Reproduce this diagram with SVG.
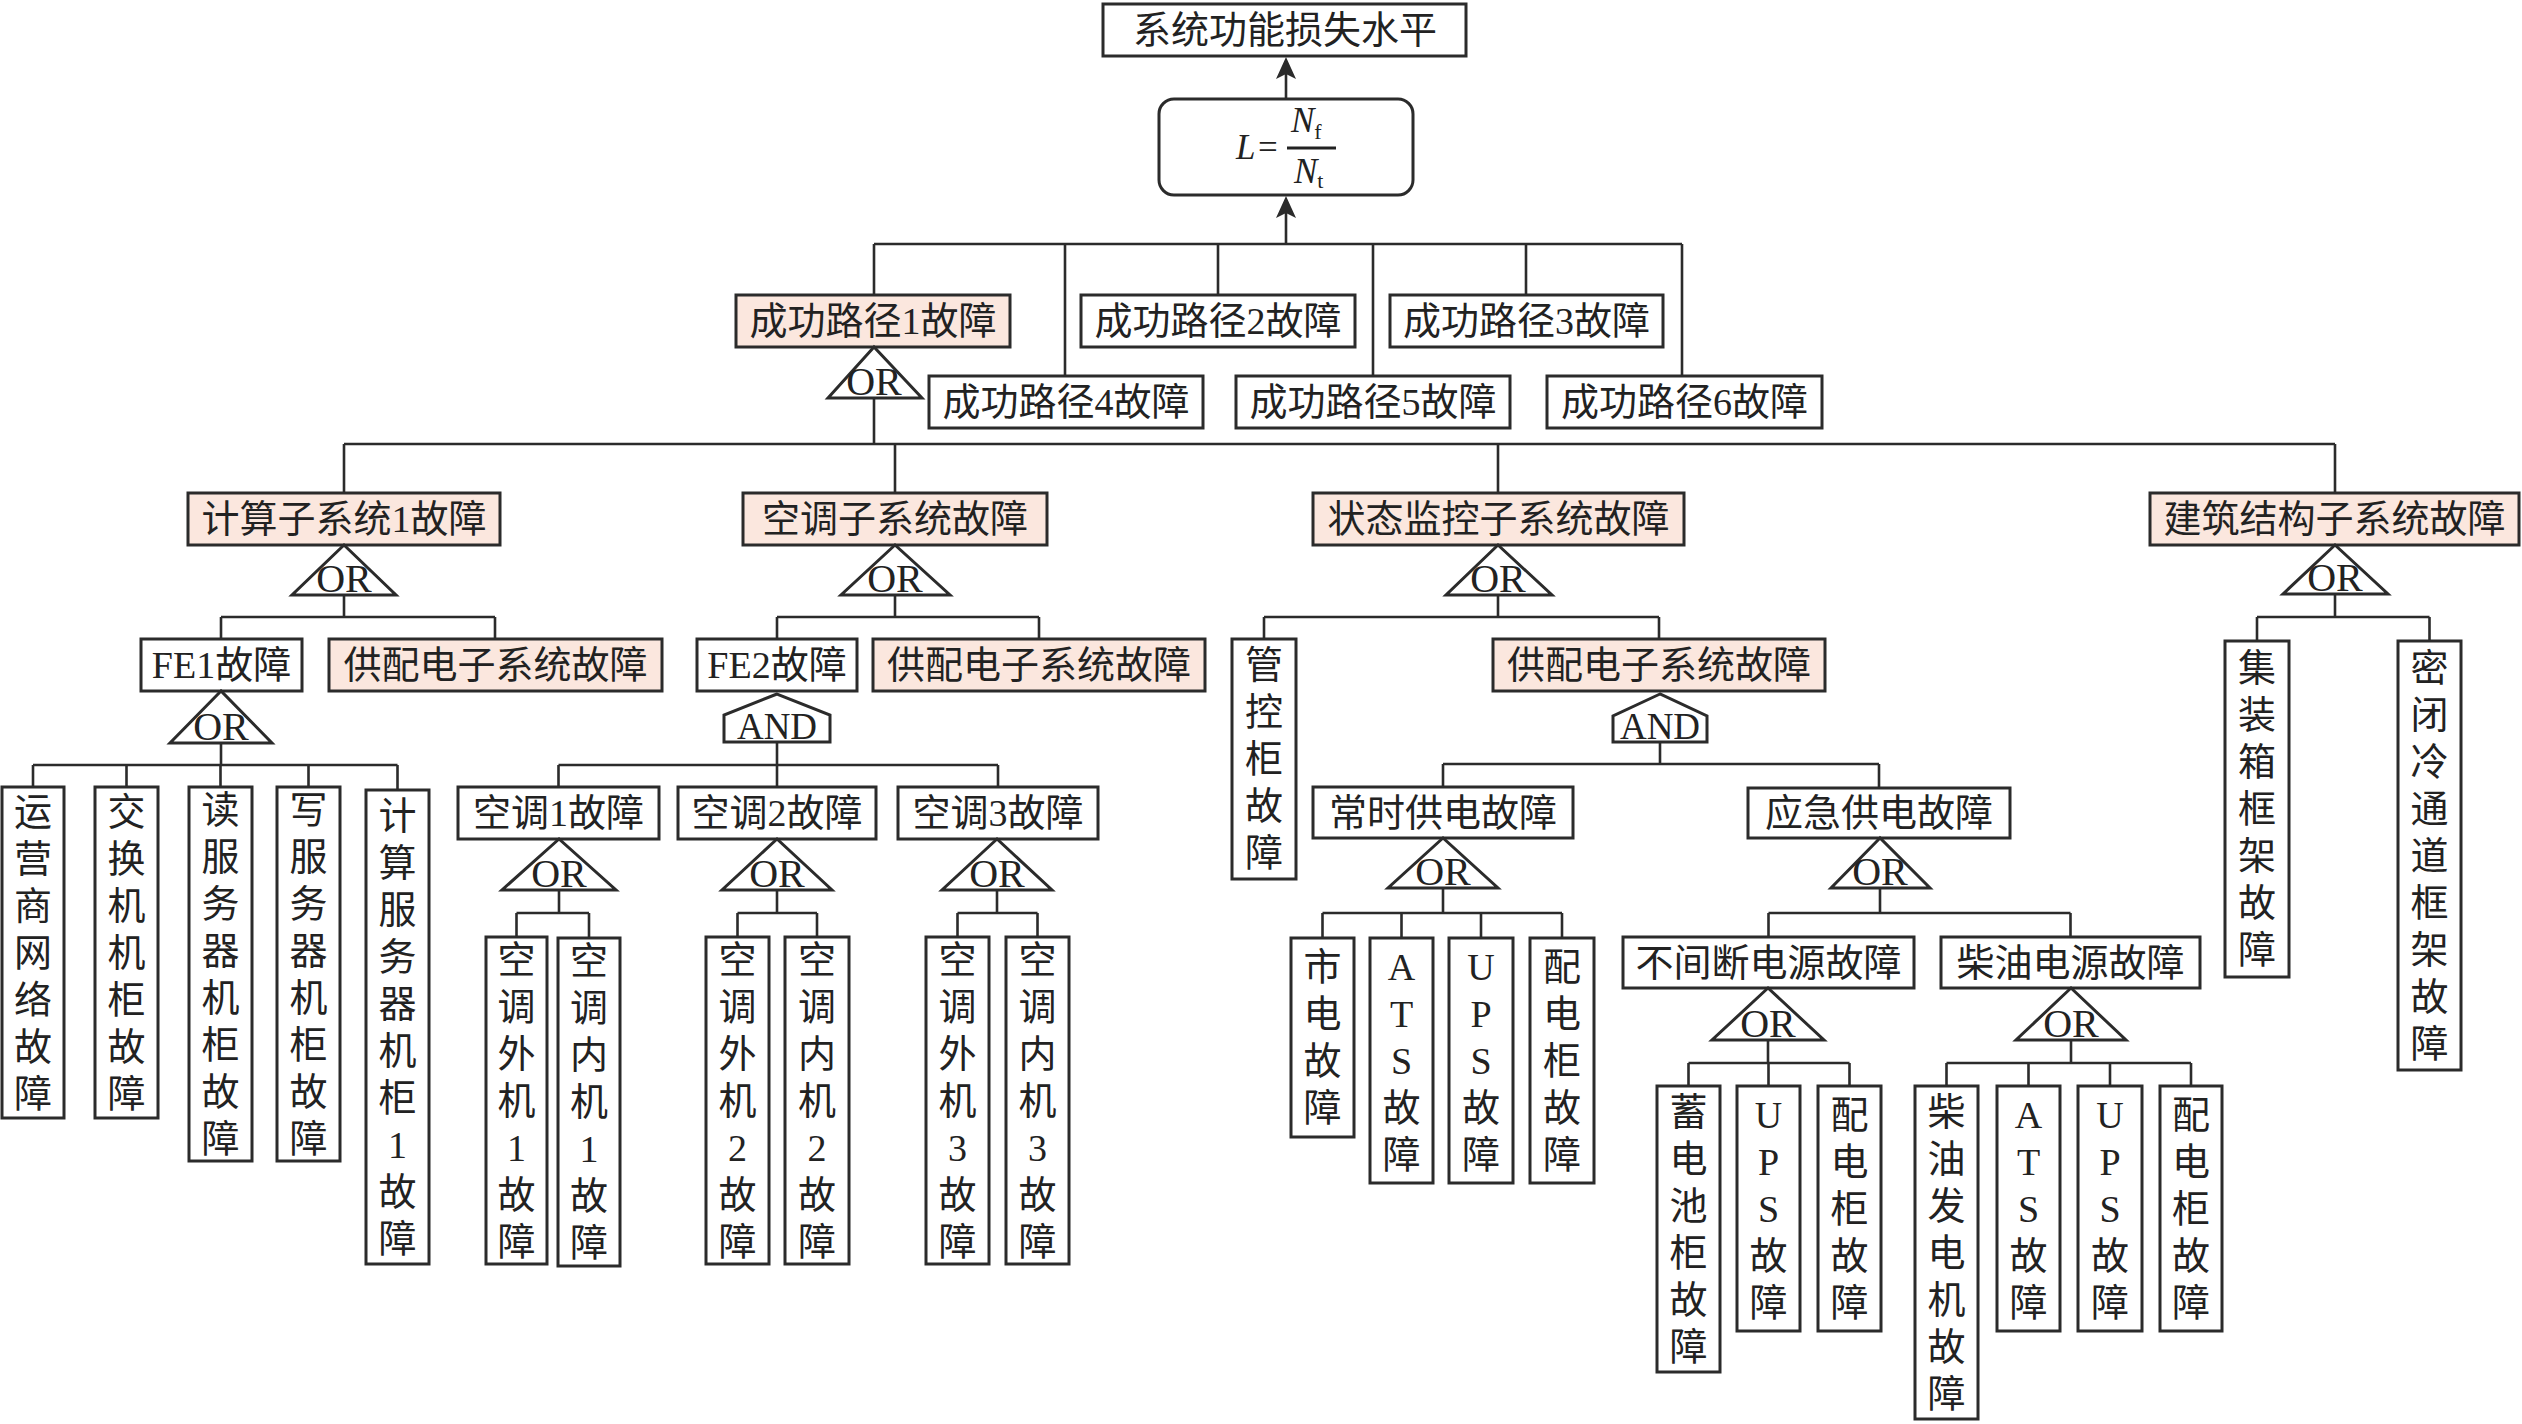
<svg xmlns="http://www.w3.org/2000/svg" width="2522" height="1424" viewBox="0 0 2522 1424">
<defs>
<style>
.b{fill:#ffffff;stroke:#2b2b2b;stroke-width:3}
.pk{fill:#fbe7de;stroke:#2b2b2b;stroke-width:3}
.g{fill:#ffffff;stroke:#2b2b2b;stroke-width:3}
.c{fill:none;stroke:#2b2b2b;stroke-width:2.6}
.t{font-family:"Liberation Serif","Noto Sans CJK SC",serif;font-size:38px;fill:#222;text-anchor:middle;dominant-baseline:central}
.gt{font-family:"Liberation Serif","Times New Roman",serif;font-size:40px;fill:#222;text-anchor:middle}
.at{font-family:"Liberation Serif","Times New Roman",serif;font-size:37px;fill:#222;text-anchor:middle}
.f{font-family:"Liberation Serif","Times New Roman",serif;fill:#222}
</style>
<marker id="ah" viewBox="0 0 22 20" refX="5" refY="10" markerWidth="22" markerHeight="20" markerUnits="userSpaceOnUse" orient="auto">
<path d="M0,0 L22,10 L0,20 L5,10 Z" fill="#2b2b2b"/>
</marker>
</defs>
<rect width="2522" height="1424" fill="#ffffff"/>

<g id="connectors">
<path class="c" d="M1286,99 V74" marker-end="url(#ah)"/>
<path class="c" d="M1286,244 V213" marker-end="url(#ah)"/>
<path class="c" d="M874,244 H1682 M874,244 V295 M1065,244 V376 M1218,244 V295 M1373,244 V376 M1526,244 V295 M1682,244 V376"/>
<path class="c" d="M874,398 V444 M344,444 H2335 M344,444 V493 M895,444 V493 M1498,444 V493 M2335,444 V493"/>
<path class="c" d="M344,595 V617 M221,617 H495 M221,617 V639 M495,617 V639"/>
<path class="c" d="M895,595 V617 M777,617 H1039 M777,617 V639 M1039,617 V639"/>
<path class="c" d="M1498,595 V617 M1264,617 H1659 M1264,617 V639 M1659,617 V639"/>
<path class="c" d="M2335,594 V617 M2257,617 H2429.5 M2257,617 V641 M2429.5,617 V641"/>
<path class="c" d="M221,743 V765 M33,765 H397.5 M33,765 V787 M126.5,765 V787 M220.5,765 V787 M308.5,765 V787 M397.5,765 V790"/>
<path class="c" d="M777,742 V765 M558.5,765 H998 M558.5,765 V787 M777,765 V787 M998,765 V787"/>
<path class="c" d="M559,890 V913 M516.5,913 H589 M516.5,913 V937 M589,913 V938"/>
<path class="c" d="M777,890 V913 M737.5,913 H817 M737.5,913 V937 M817,913 V937"/>
<path class="c" d="M997,890 V913 M957.5,913 H1037.5 M957.5,913 V937 M1037.5,913 V937"/>
<path class="c" d="M1660,742 V764 M1443,764 H1879 M1443,764 V787 M1879,764 V788"/>
<path class="c" d="M1443,888 V913 M1322.5,913 H1562 M1322.5,913 V938 M1401.5,913 V938 M1481,913 V938 M1562,913 V938"/>
<path class="c" d="M1880,888 V913 M1768.5,913 H2070.5 M1768.5,913 V937 M2070.5,913 V937"/>
<path class="c" d="M1768,1040 V1063 M1688.5,1063 H1849.5 M1688.5,1063 V1086 M1768.5,1063 V1086 M1849.5,1063 V1086"/>
<path class="c" d="M2071,1040 V1063 M1946.5,1063 H2191 M1946.5,1063 V1086 M2028.5,1063 V1086 M2110,1063 V1086 M2191,1063 V1086"/>
</g>

<g id="n-top"><rect class="b" x="1103" y="4" width="363" height="52"/><text class="t" x="1285" y="30">系统功能损失水平</text></g>
<g id="n-formula">
<rect class="b" x="1159" y="99" width="254" height="96" rx="15" ry="15"/>
<text class="f" x="1236" y="159" font-size="35" font-style="italic">L</text>
<text class="f" x="1258" y="159" font-size="35">=</text>
<line x1="1287" y1="148" x2="1336" y2="148" stroke="#222" stroke-width="3"/>
<text class="f" x="1291" y="132" font-size="35" font-style="italic">N<tspan font-size="22" font-style="normal" dy="7">f</tspan></text>
<text class="f" x="1294" y="183" font-size="35" font-style="italic">N<tspan font-size="22" font-style="normal" dy="5">t</tspan></text>
</g>

<g id="n-p1"><rect class="pk" x="736" y="295" width="274" height="52"/><text class="t" x="873" y="321">成功路径1故障</text></g>
<g id="n-p2"><rect class="b" x="1081" y="295" width="274" height="52"/><text class="t" x="1218" y="321">成功路径2故障</text></g>
<g id="n-p3"><rect class="b" x="1390" y="295" width="273" height="52"/><text class="t" x="1526.5" y="321">成功路径3故障</text></g>
<g id="n-p4"><rect class="b" x="929" y="376" width="274" height="52"/><text class="t" x="1066" y="402">成功路径4故障</text></g>
<g id="n-p5"><rect class="b" x="1236" y="376" width="274" height="52"/><text class="t" x="1373" y="402">成功路径5故障</text></g>
<g id="n-p6"><rect class="b" x="1547" y="376" width="275" height="52"/><text class="t" x="1684.5" y="402">成功路径6故障</text></g>
<g id="gate-p1"><polygon class="g" points="874,347 828,398 922,398"/><text class="gt" x="874" y="395">OR</text></g>

<g id="n-s1"><rect class="pk" x="188" y="493" width="312" height="52"/><text class="t" x="344" y="519">计算子系统1故障</text></g>
<g id="n-s2"><rect class="pk" x="743" y="493" width="304" height="52"/><text class="t" x="895" y="519">空调子系统故障</text></g>
<g id="n-s3"><rect class="pk" x="1313" y="493" width="371" height="52"/><text class="t" x="1498.5" y="519">状态监控子系统故障</text></g>
<g id="n-s4"><rect class="pk" x="2150" y="493" width="369" height="52"/><text class="t" x="2334.5" y="519">建筑结构子系统故障</text></g>
<g id="gate-s1"><polygon class="g" points="344,545 292,595 396,595"/><text class="gt" x="344" y="592">OR</text></g>
<g id="gate-s2"><polygon class="g" points="895,545 841,595 950,595"/><text class="gt" x="895" y="592">OR</text></g>
<g id="gate-s3"><polygon class="g" points="1498,545 1446,595 1552,595"/><text class="gt" x="1498" y="592">OR</text></g>
<g id="gate-s4"><polygon class="g" points="2335,545 2283,594 2388,594"/><text class="gt" x="2335" y="591">OR</text></g>

<g id="n-fe1"><rect class="b" x="141" y="639" width="161" height="52"/><text class="t" x="221.5" y="665">FE1故障</text></g>
<g id="n-gp1"><rect class="pk" x="329" y="639" width="333" height="52"/><text class="t" x="495.5" y="665">供配电子系统故障</text></g>
<g id="n-fe2"><rect class="b" x="697" y="639" width="160" height="52"/><text class="t" x="777" y="665">FE2故障</text></g>
<g id="n-gp2"><rect class="pk" x="873" y="639" width="332" height="52"/><text class="t" x="1039" y="665">供配电子系统故障</text></g>
<g id="n-gp3"><rect class="pk" x="1493" y="639" width="332" height="52"/><text class="t" x="1659" y="665">供配电子系统故障</text></g>
<g id="gate-fe1"><polygon class="g" points="221,691 170,743 272,743"/><text class="gt" x="221" y="740">OR</text></g>
<g id="gate-fe2"><polygon class="g" points="777,694 724,715 724,742 830,742 830,715"/><text class="at" x="777" y="739">AND</text></g>
<g id="gate-gp3"><polygon class="g" points="1660,694 1613,716 1613,742 1707,742 1707,716"/><text class="at" x="1660" y="739">AND</text></g>

<g id="n-l1"><rect class="b" x="2" y="787" width="62" height="331"/><text class="t"><tspan x="33" y="811.5">运</tspan><tspan x="33" y="858.5">营</tspan><tspan x="33" y="905.5">商</tspan><tspan x="33" y="952.5">网</tspan><tspan x="33" y="999.5">络</tspan><tspan x="33" y="1046.5">故</tspan><tspan x="33" y="1093.5">障</tspan></text></g>
<g id="n-l2"><rect class="b" x="95" y="787" width="63" height="331"/><text class="t"><tspan x="126.5" y="811.5">交</tspan><tspan x="126.5" y="858.5">换</tspan><tspan x="126.5" y="905.5">机</tspan><tspan x="126.5" y="952.5">机</tspan><tspan x="126.5" y="999.5">柜</tspan><tspan x="126.5" y="1046.5">故</tspan><tspan x="126.5" y="1093.5">障</tspan></text></g>
<g id="n-l3"><rect class="b" x="189" y="787" width="63" height="374"/><text class="t"><tspan x="220.5" y="809.5">读</tspan><tspan x="220.5" y="856.5">服</tspan><tspan x="220.5" y="903.5">务</tspan><tspan x="220.5" y="950.5">器</tspan><tspan x="220.5" y="997.5">机</tspan><tspan x="220.5" y="1044.5">柜</tspan><tspan x="220.5" y="1091.5">故</tspan><tspan x="220.5" y="1138.5">障</tspan></text></g>
<g id="n-l4"><rect class="b" x="277" y="787" width="63" height="374"/><text class="t"><tspan x="308.5" y="809.5">写</tspan><tspan x="308.5" y="856.5">服</tspan><tspan x="308.5" y="903.5">务</tspan><tspan x="308.5" y="950.5">器</tspan><tspan x="308.5" y="997.5">机</tspan><tspan x="308.5" y="1044.5">柜</tspan><tspan x="308.5" y="1091.5">故</tspan><tspan x="308.5" y="1138.5">障</tspan></text></g>
<g id="n-l5"><rect class="b" x="366" y="790" width="63" height="474"/><text class="t"><tspan x="397.5" y="815.5">计</tspan><tspan x="397.5" y="862.5">算</tspan><tspan x="397.5" y="909.5">服</tspan><tspan x="397.5" y="956.5">务</tspan><tspan x="397.5" y="1003.5">器</tspan><tspan x="397.5" y="1050.5">机</tspan><tspan x="397.5" y="1097.5">柜</tspan><tspan x="397.5" y="1144.5">1</tspan><tspan x="397.5" y="1191.5">故</tspan><tspan x="397.5" y="1238.5">障</tspan></text></g>

<g id="n-k1"><rect class="b" x="458" y="787" width="201" height="52"/><text class="t" x="558.5" y="813">空调1故障</text></g>
<g id="n-k2"><rect class="b" x="678" y="787" width="198" height="52"/><text class="t" x="777" y="813">空调2故障</text></g>
<g id="n-k3"><rect class="b" x="898" y="787" width="200" height="52"/><text class="t" x="998" y="813">空调3故障</text></g>
<g id="gate-k1"><polygon class="g" points="559,839 502,890 616,890"/><text class="gt" x="559" y="887">OR</text></g>
<g id="gate-k2"><polygon class="g" points="777,839 722,890 832,890"/><text class="gt" x="777" y="887">OR</text></g>
<g id="gate-k3"><polygon class="g" points="997,839 942,890 1052,890"/><text class="gt" x="997" y="887">OR</text></g>

<g id="n-l6"><rect class="b" x="486" y="937" width="61" height="327"/><text class="t"><tspan x="516.5" y="959.5">空</tspan><tspan x="516.5" y="1006.5">调</tspan><tspan x="516.5" y="1053.5">外</tspan><tspan x="516.5" y="1100.5">机</tspan><tspan x="516.5" y="1147.5">1</tspan><tspan x="516.5" y="1194.5">故</tspan><tspan x="516.5" y="1241.5">障</tspan></text></g>
<g id="n-l7"><rect class="b" x="558" y="938" width="62" height="328"/><text class="t"><tspan x="589" y="961">空</tspan><tspan x="589" y="1008">调</tspan><tspan x="589" y="1055">内</tspan><tspan x="589" y="1102">机</tspan><tspan x="589" y="1149">1</tspan><tspan x="589" y="1196">故</tspan><tspan x="589" y="1243">障</tspan></text></g>
<g id="n-l8"><rect class="b" x="706" y="937" width="63" height="327"/><text class="t"><tspan x="737.5" y="959.5">空</tspan><tspan x="737.5" y="1006.5">调</tspan><tspan x="737.5" y="1053.5">外</tspan><tspan x="737.5" y="1100.5">机</tspan><tspan x="737.5" y="1147.5">2</tspan><tspan x="737.5" y="1194.5">故</tspan><tspan x="737.5" y="1241.5">障</tspan></text></g>
<g id="n-l9"><rect class="b" x="785" y="937" width="64" height="327"/><text class="t"><tspan x="817" y="959.5">空</tspan><tspan x="817" y="1006.5">调</tspan><tspan x="817" y="1053.5">内</tspan><tspan x="817" y="1100.5">机</tspan><tspan x="817" y="1147.5">2</tspan><tspan x="817" y="1194.5">故</tspan><tspan x="817" y="1241.5">障</tspan></text></g>
<g id="n-l10"><rect class="b" x="926" y="937" width="63" height="327"/><text class="t"><tspan x="957.5" y="959.5">空</tspan><tspan x="957.5" y="1006.5">调</tspan><tspan x="957.5" y="1053.5">外</tspan><tspan x="957.5" y="1100.5">机</tspan><tspan x="957.5" y="1147.5">3</tspan><tspan x="957.5" y="1194.5">故</tspan><tspan x="957.5" y="1241.5">障</tspan></text></g>
<g id="n-l11"><rect class="b" x="1006" y="937" width="63" height="327"/><text class="t"><tspan x="1037.5" y="959.5">空</tspan><tspan x="1037.5" y="1006.5">调</tspan><tspan x="1037.5" y="1053.5">内</tspan><tspan x="1037.5" y="1100.5">机</tspan><tspan x="1037.5" y="1147.5">3</tspan><tspan x="1037.5" y="1194.5">故</tspan><tspan x="1037.5" y="1241.5">障</tspan></text></g>

<g id="n-l12"><rect class="b" x="1232" y="639" width="64" height="240"/><text class="t"><tspan x="1264" y="665">管</tspan><tspan x="1264" y="712">控</tspan><tspan x="1264" y="759">柜</tspan><tspan x="1264" y="806">故</tspan><tspan x="1264" y="853">障</tspan></text></g>

<g id="n-cs"><rect class="b" x="1313" y="787" width="260" height="51"/><text class="t" x="1443" y="812.5">常时供电故障</text></g>
<g id="n-yj"><rect class="b" x="1748" y="788" width="262" height="50"/><text class="t" x="1879" y="813">应急供电故障</text></g>
<g id="gate-cs"><polygon class="g" points="1443,838 1388,888 1498,888"/><text class="gt" x="1443" y="885">OR</text></g>
<g id="gate-yj"><polygon class="g" points="1880,838 1831,888 1930,888"/><text class="gt" x="1880" y="885">OR</text></g>

<g id="n-l13"><rect class="b" x="1291" y="938" width="63" height="199"/><text class="t"><tspan x="1322.5" y="967">市</tspan><tspan x="1322.5" y="1014">电</tspan><tspan x="1322.5" y="1061">故</tspan><tspan x="1322.5" y="1108">障</tspan></text></g>
<g id="n-l14"><rect class="b" x="1370" y="938" width="63" height="245"/><text class="t"><tspan x="1401.5" y="966.5">A</tspan><tspan x="1401.5" y="1013.5">T</tspan><tspan x="1401.5" y="1060.5">S</tspan><tspan x="1401.5" y="1107.5">故</tspan><tspan x="1401.5" y="1154.5">障</tspan></text></g>
<g id="n-l15"><rect class="b" x="1449" y="938" width="64" height="245"/><text class="t"><tspan x="1481" y="966.5">U</tspan><tspan x="1481" y="1013.5">P</tspan><tspan x="1481" y="1060.5">S</tspan><tspan x="1481" y="1107.5">故</tspan><tspan x="1481" y="1154.5">障</tspan></text></g>
<g id="n-l16"><rect class="b" x="1530" y="938" width="64" height="245"/><text class="t"><tspan x="1562" y="966.5">配</tspan><tspan x="1562" y="1013.5">电</tspan><tspan x="1562" y="1060.5">柜</tspan><tspan x="1562" y="1107.5">故</tspan><tspan x="1562" y="1154.5">障</tspan></text></g>

<g id="n-bj"><rect class="b" x="1623" y="937" width="291" height="51"/><text class="t" x="1768.5" y="962.5">不间断电源故障</text></g>
<g id="n-cy"><rect class="b" x="1941" y="937" width="259" height="51"/><text class="t" x="2070.5" y="962.5">柴油电源故障</text></g>
<g id="gate-bj"><polygon class="g" points="1768,988 1712,1040 1824,1040"/><text class="gt" x="1768" y="1037">OR</text></g>
<g id="gate-cy"><polygon class="g" points="2071,988 2016,1040 2126,1040"/><text class="gt" x="2071" y="1037">OR</text></g>

<g id="n-l17"><rect class="b" x="1657" y="1086" width="63" height="286"/><text class="t"><tspan x="1688.5" y="1111.5">蓄</tspan><tspan x="1688.5" y="1158.5">电</tspan><tspan x="1688.5" y="1205.5">池</tspan><tspan x="1688.5" y="1252.5">柜</tspan><tspan x="1688.5" y="1299.5">故</tspan><tspan x="1688.5" y="1346.5">障</tspan></text></g>
<g id="n-l18"><rect class="b" x="1737" y="1086" width="63" height="245"/><text class="t"><tspan x="1768.5" y="1114.5">U</tspan><tspan x="1768.5" y="1161.5">P</tspan><tspan x="1768.5" y="1208.5">S</tspan><tspan x="1768.5" y="1255.5">故</tspan><tspan x="1768.5" y="1302.5">障</tspan></text></g>
<g id="n-l19"><rect class="b" x="1818" y="1086" width="63" height="245"/><text class="t"><tspan x="1849.5" y="1114.5">配</tspan><tspan x="1849.5" y="1161.5">电</tspan><tspan x="1849.5" y="1208.5">柜</tspan><tspan x="1849.5" y="1255.5">故</tspan><tspan x="1849.5" y="1302.5">障</tspan></text></g>
<g id="n-l20"><rect class="b" x="1915" y="1086" width="63" height="333"/><text class="t"><tspan x="1946.5" y="1111.5">柴</tspan><tspan x="1946.5" y="1158.5">油</tspan><tspan x="1946.5" y="1205.5">发</tspan><tspan x="1946.5" y="1252.5">电</tspan><tspan x="1946.5" y="1299.5">机</tspan><tspan x="1946.5" y="1346.5">故</tspan><tspan x="1946.5" y="1393.5">障</tspan></text></g>
<g id="n-l21"><rect class="b" x="1997" y="1086" width="63" height="245"/><text class="t"><tspan x="2028.5" y="1114.5">A</tspan><tspan x="2028.5" y="1161.5">T</tspan><tspan x="2028.5" y="1208.5">S</tspan><tspan x="2028.5" y="1255.5">故</tspan><tspan x="2028.5" y="1302.5">障</tspan></text></g>
<g id="n-l22"><rect class="b" x="2078" y="1086" width="64" height="245"/><text class="t"><tspan x="2110" y="1114.5">U</tspan><tspan x="2110" y="1161.5">P</tspan><tspan x="2110" y="1208.5">S</tspan><tspan x="2110" y="1255.5">故</tspan><tspan x="2110" y="1302.5">障</tspan></text></g>
<g id="n-l23"><rect class="b" x="2160" y="1086" width="62" height="245"/><text class="t"><tspan x="2191" y="1114.5">配</tspan><tspan x="2191" y="1161.5">电</tspan><tspan x="2191" y="1208.5">柜</tspan><tspan x="2191" y="1255.5">故</tspan><tspan x="2191" y="1302.5">障</tspan></text></g>

<g id="n-l24"><rect class="b" x="2225" y="641" width="64" height="336"/><text class="t"><tspan x="2257" y="668">集</tspan><tspan x="2257" y="715">装</tspan><tspan x="2257" y="762">箱</tspan><tspan x="2257" y="809">框</tspan><tspan x="2257" y="856">架</tspan><tspan x="2257" y="903">故</tspan><tspan x="2257" y="950">障</tspan></text></g>
<g id="n-l25"><rect class="b" x="2398" y="641" width="63" height="429"/><text class="t"><tspan x="2429.5" y="667.5">密</tspan><tspan x="2429.5" y="714.5">闭</tspan><tspan x="2429.5" y="761.5">冷</tspan><tspan x="2429.5" y="808.5">通</tspan><tspan x="2429.5" y="855.5">道</tspan><tspan x="2429.5" y="902.5">框</tspan><tspan x="2429.5" y="949.5">架</tspan><tspan x="2429.5" y="996.5">故</tspan><tspan x="2429.5" y="1043.5">障</tspan></text></g>
</svg>
